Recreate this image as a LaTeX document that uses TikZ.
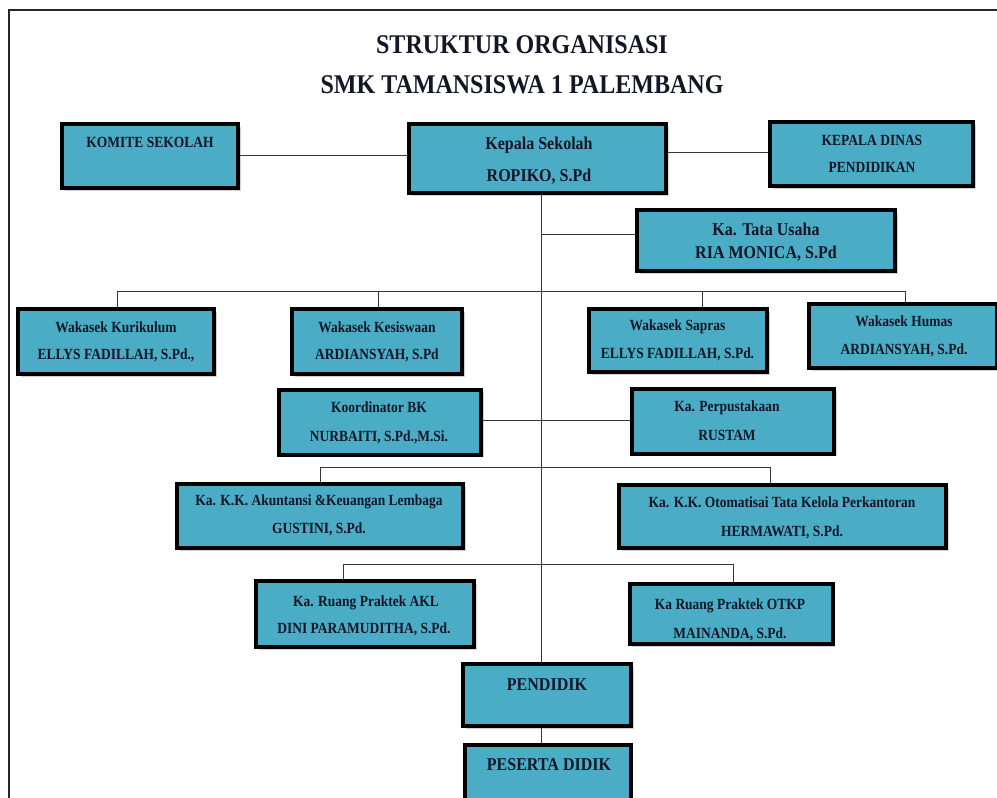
\documentclass[tikz,border=0pt]{standalone}
\usepackage{fontspec}
\setmainfont{Liberation Serif}
\newfontfamily\condA[FakeStretch=0.87]{Liberation Serif}
\newfontfamily\condB[FakeStretch=0.89]{Liberation Serif}
\usetikzlibrary{shadows}
\definecolor{boxc}{RGB}{75,172,198}
\definecolor{txt}{RGB}{18,22,38}
\definecolor{conn}{RGB}{55,55,55}
\begin{document}
\begin{tikzpicture}[x=1pt,y=-1pt,
  bx/.style={draw=black, line width=4pt, fill=boxc, inner sep=0pt, rectangle,
    drop shadow={shadow xshift=2.5pt, shadow yshift=-2.5pt, opacity=.5, fill=gray!70}},
  lb/.style={text=txt, font=\condA\bfseries\fontsize{15.5}{18}\selectfont, anchor=mid, inner sep=0pt, yshift=-2pt},
  lbb/.style={text=txt, font=\condB\bfseries\fontsize{18}{21}\selectfont, anchor=mid, inner sep=0pt, yshift=-2pt},
  ttl/.style={text=txt, font=\condB\bfseries\fontsize{27}{30}\selectfont, anchor=mid, inner sep=0pt, yshift=-2pt},
  cn/.style={draw=conn, line width=1pt}]
\useasboundingbox (0,0) rectangle (997,798);
\fill[white] (0,0) rectangle (997,798);
% frame
\draw[line width=2pt, draw=black!85] (9,800) -- (9,10) -- (999,10);
% title
\node[ttl] (t1) at (522,49) {STRUKTUR ORGANISASI};
\node[ttl] (t2) at (522,89) {SMK TAMANSISWA 1 PALEMBANG};
% coordinates
\coordinate (tk) at (541,0);
\coordinate (b1L) at (117,291);
\coordinate (b1R) at (905,291);
\coordinate (b1S) at (702,291);
\coordinate (b2L) at (320,467);
\coordinate (b2R) at (770,467);
\coordinate (b3L) at (343,564);
\coordinate (b3R) at (733,564);
% boxes
\node[bx, minimum width=176pt, minimum height=64pt] (komite) at (150,156) {};
\node[bx, minimum width=257pt, minimum height=69pt] (kepsek) at (537.5,158.5) {};
\node[bx, minimum width=203pt, minimum height=64pt] (dinas) at (871.5,154) {};
\node[bx, minimum width=258pt, minimum height=61pt] (tu) at (766,240.5) {};
\node[bx, minimum width=196pt, minimum height=65pt] (kur) at (116,341.5) {};
\node[bx, minimum width=170pt, minimum height=65pt] (kes) at (377,341.5) {};
\node[bx, minimum width=178pt, minimum height=63pt] (sap) at (678,340.5) {};
\node[bx, minimum width=188pt, minimum height=64pt] (hum) at (903,336) {};
\node[bx, minimum width=202pt, minimum height=65pt] (bk) at (380,422) {};
\node[bx, minimum width=202pt, minimum height=65pt] (perp) at (733,421) {};
\node[bx, minimum width=286pt, minimum height=64pt] (akt) at (320,516) {};
\node[bx, minimum width=327pt, minimum height=63pt] (oto) at (782.5,516.5) {};
\node[bx, minimum width=218pt, minimum height=66pt] (akl) at (365,614) {};
\node[bx, minimum width=203pt, minimum height=60pt] (otkp) at (731,614) {};
\node[bx, minimum width=168pt, minimum height=62pt] (pend) at (547,695) {};
\node[bx, minimum width=166pt, minimum height=66pt] (pes) at (547.5,778) {};
% labels
\node[lb] (l1) at (150,143) {KOMITE SEKOLAH};
\node[lbb] (l2) at (539,145) {Kepala Sekolah};
\node[lbb] (l3) at (539,177) {ROPIKO, S.Pd};
\node[lb] (l4) at (872,141) {KEPALA DINAS};
\node[lb] (l5) at (872,168) {PENDIDIKAN};
\node[lbb] (l6) at (766,231) {Ka. Tata Usaha};
\node[lbb] (l7) at (766,254) {RIA MONICA, S.Pd};
\node[lb] (l8) at (116,328) {Wakasek Kurikulum};
\node[lb] (l9) at (116,355) {ELLYS FADILLAH, S.Pd.,};
\node[lb] (l10) at (377,328) {Wakasek Kesiswaan};
\node[lb] (l11) at (377,355) {ARDIANSYAH, S.Pd};
\node[lb] (l12) at (677.5,326.5) {Wakasek Sapras};
\node[lb] (l13) at (677.5,354) {ELLYS FADILLAH, S.Pd.};
\node[lb] (l14) at (904,322) {Wakasek Humas};
\node[lb] (l15) at (904,350) {ARDIANSYAH, S.Pd.};
\node[lb] (l16) at (379,408) {Koordinator BK};
\node[lb] (l17) at (379,437) {NURBAITI, S.Pd.,M.Si.};
\node[lb] (l18) at (727,407) {Ka. Perpustakaan};
\node[lb] (l19) at (727,436) {RUSTAM};
\node[lb] (l20) at (319,501) {Ka. K.K. Akuntansi \&Keuangan Lembaga};
\node[lb] (l21) at (319,529) {GUSTINI, S.Pd.};
\node[lb] (l22) at (782,503) {Ka. K.K. Otomatisai Tata Kelola Perkantoran};
\node[lb] (l23) at (782,532) {HERMAWATI, S.Pd.};
\node[lb] (l24) at (366,602) {Ka. Ruang Praktek AKL};
\node[lb] (l25) at (364,629) {DINI PARAMUDITHA, S.Pd.};
\node[lb] (l26) at (730,605) {Ka Ruang Praktek OTKP};
\node[lb] (l27) at (730,634) {MAINANDA, S.Pd.};
\node[lbb] (l28) at (547,686) {PENDIDIK};
\node[lbb] (l29) at (549,766) {PESERTA DIDIK};
% connectors
\draw[cn] (komite.east |- 0,155) -- (kepsek.west |- 0,155);
\draw[cn] (kepsek.east |- 0,152) -- (dinas.west |- 0,152);
\draw[cn] (kepsek.south -| tk) -- (pend.north -| tk);
\draw[cn] (tk |- 0,234) -- (tu.west |- 0,234);
\draw[cn] (kur.north -| b1L) -- (b1L) -- (b1R) -- (hum.north -| b1R);
\draw[cn] (kes.north -| 378,0) -- (378,291);
\draw[cn] (sap.north -| b1S) -- (b1S);
\draw[cn] (bk.east |- 0,420) -- (perp.west |- 0,420);
\draw[cn] (akt.north -| b2L) -- (b2L) -- (b2R) -- (oto.north -| b2R);
\draw[cn] (akl.north -| b3L) -- (b3L) -- (b3R) -- (otkp.north -| b3R);
\draw[cn] (pend.south -| tk) -- (pes.north -| tk);
\end{tikzpicture}
\end{document}
